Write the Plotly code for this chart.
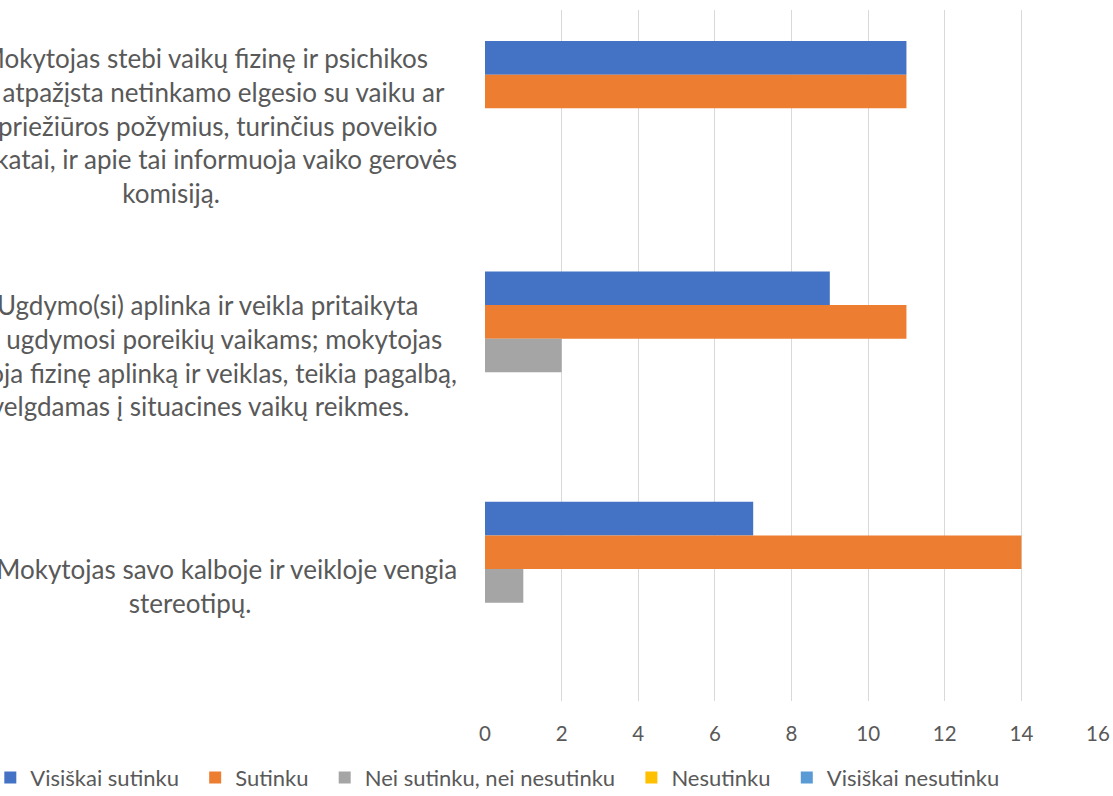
import plotly.graph_objects as go

NBSP = "\u00a0"

# Categories (top to bottom), each as its wrapped lines.
# The chart is cropped on the left; leading non-breaking spaces stand in for
# the part of a line that lies outside the picture.
categories = ["stebi", "aplinka", "stereotipai"]
label_lines = [
    [NBSP * 10 + "Mokytojas stebi vaikų fizinę ir psichikos",
     "sveikatą, atpažįsta netinkamo elgesio su vaiku ar",
     NBSP * 14 + "priežiūros požymius, turinčius poveikio",
     "vaiko sveikatai, ir apie tai informuoja vaiko gerovės",
     "komisiją."],
    [NBSP * 10 + "Ugdymo(si) aplinka ir veikla pritaikyta",
     NBSP * 15 + "ugdymosi poreikių vaikams; mokytojas",
     "organizuoja fizinę aplinką ir veiklas, teikia pagalbą,",
     "atsižvelgdamas į situacines vaikų reikmes."],
    [NBSP * 11 + "Mokytojas savo kalboje ir veikloje vengia",
     "stereotipų."],
]

series_names = ["Visiškai sutinku", "Sutinku", "Nei sutinku, nei nesutinku",
                "Nesutinku", "Visiškai nesutinku"]
series_values = [
    [11, 9, 7],
    [11, 11, 14],
    [0, 2, 1],
    [0, 0, 0],
    [0, 0, 0],
]
series_colors = ["#4472C4", "#ED7D31", "#A5A5A5", "#FFC000", "#5B9BD5"]

x_ticks = [0, 2, 4, 6, 8, 10, 12, 14, 16]

FONT = "Lato"
TEXT_COLOR = "#595959"

fig = go.Figure()
for name, vals, col in zip(series_names, series_values, series_colors):
    fig.add_trace(go.Bar(
        y=categories, x=vals, name=name + NBSP * 2, orientation="h",
        marker=dict(color=col, line=dict(width=0)),
    ))

for cat, lines in zip(categories, label_lines):
    fig.add_annotation(
        x=-0.0424, xref="paper", xanchor="right",
        y=cat, yref="y", yanchor="middle",
        text="<br>".join(lines), align="center", showarrow=False,
        font=dict(family=FONT, size=26, color=TEXT_COLOR),
    )

fig.update_layout(
    width=1113, height=796,
    margin=dict(l=485, r=15, t=10, b=95, autoexpand=False),
    paper_bgcolor="white", plot_bgcolor="white",
    barmode="group", bargap=0.27, bargroupgap=0,
    font=dict(family=FONT, color=TEXT_COLOR),
    showlegend=True,
    legend=dict(
        orientation="h", xref="paper", yref="paper",
        x=-0.807, y=-0.111, xanchor="left", yanchor="middle",
        font=dict(family=FONT, size=22, color=TEXT_COLOR),
        traceorder="normal", bgcolor="rgba(0,0,0,0)",
    ),
    xaxis=dict(
        range=[0, 16], tickvals=x_ticks, ticktext=[str(v) for v in x_ticks],
        showgrid=True, gridcolor="#D9D9D9", gridwidth=1.3,
        zeroline=False, showline=False, ticks="", automargin=False,
        tickfont=dict(family=FONT, size=20.5, color=TEXT_COLOR),
        ticklabelstandoff=18,
    ),
    yaxis=dict(
        type="category", autorange="reversed", showticklabels=False,
        showgrid=False, zeroline=False, showline=False, ticks="",
        automargin=False,
    ),
)

fig.write_html("out.html", config={"displayModeBar": False},
               post_script="document.body.style.margin='0';")
